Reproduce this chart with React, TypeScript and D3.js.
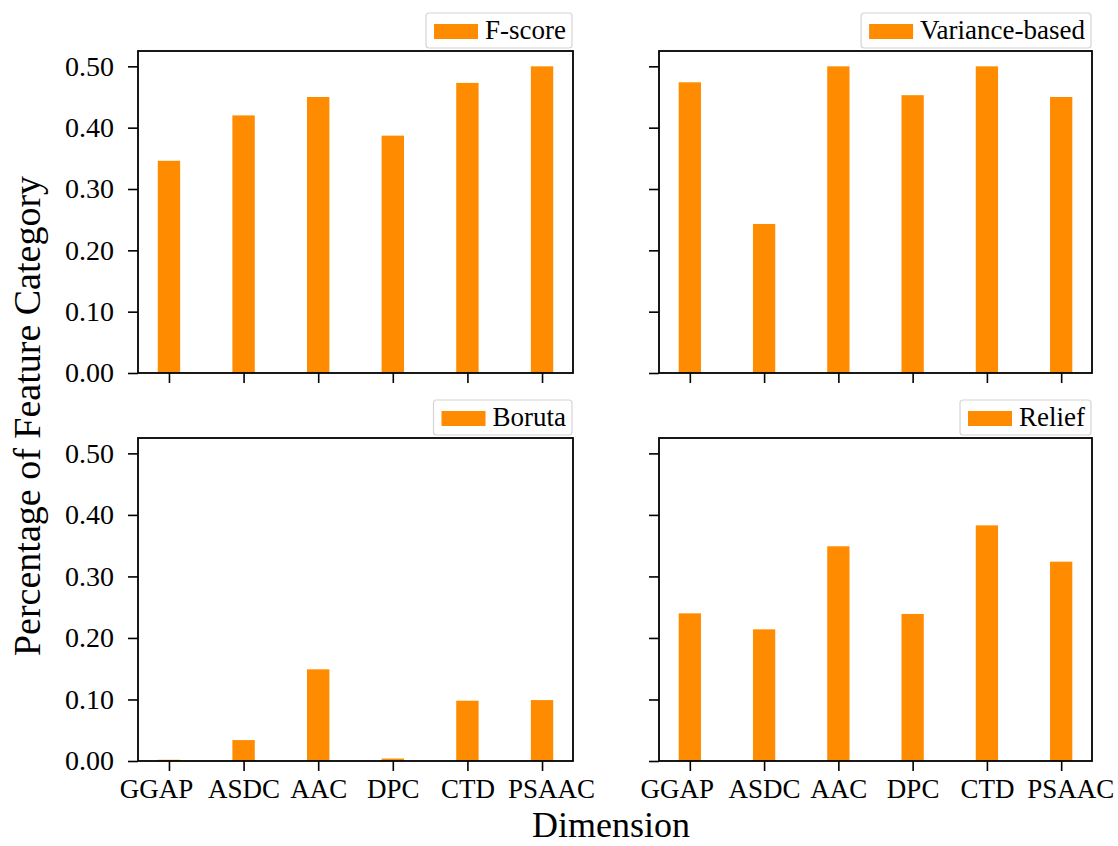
import React, { useEffect, useRef } from 'react';
import * as d3 from 'd3';

// categories on the x axis
const categories = ['GGAP', 'ASDC', 'AAC', 'DPC', 'CTD', 'PSAAC'];

// one series per selection method
const fScore = [0.346, 0.42, 0.45, 0.387, 0.473, 0.5];
const varianceBased = [0.474, 0.243, 0.5, 0.453, 0.5, 0.45];
const boruta = [0.002, 0.034, 0.149, 0.004, 0.098, 0.099];
const relief = [0.24, 0.214, 0.349, 0.239, 0.383, 0.324];

const yTicks = [0, 0.1, 0.2, 0.3, 0.4, 0.5];

// the outer tick labels sit a little off their ticks in the original
const labelShift = [-13, 0, 0, 0, 0, 9];

const FONT = "'Times New Roman', 'Liberation Serif', serif";
const ORANGE = '#FF8C00';

function App() {
  const svgRef = useRef<SVGSVGElement>(null);

  useEffect(() => {
    const svg = d3.select(svgRef.current);
    svg.selectAll('*').remove();

    const panels = [
      { name: 'F-score', values: fScore, left: 138, right: 573, top: 51, bottom: 373, showX: false, showY: true },
      { name: 'Variance-based', values: varianceBased, left: 659, right: 1092, top: 51, bottom: 373, showX: false, showY: false },
      { name: 'Boruta', values: boruta, left: 138, right: 573, top: 438, bottom: 761, showX: true, showY: true },
      { name: 'Relief', values: relief, left: 659, right: 1092, top: 438, bottom: 761, showX: true, showY: false },
    ];

    const barWidth = 0.3;

    panels.forEach(p => {
      const idx = categories.map((_, i) => i);
      const x = d3.scaleLinear().domain([-0.415, categories.length - 1 + 0.415]).range([p.left, p.right]);
      const y = d3.scaleLinear().domain([0, 0.525]).range([p.bottom, p.top]);
      const g = svg.append('g');

      // bars
      g.selectAll('rect.bar')
        .data(p.values)
        .enter().append('rect')
        .attr('class', 'bar')
        .attr('x', (d, i) => x(i - barWidth / 2))
        .attr('width', x(barWidth) - x(0))
        .attr('y', d => y(d))
        .attr('height', d => y(0) - y(d))
        .attr('fill', ORANGE);

      // y axis ticks
      const yAxis = g.append('g')
        .attr('transform', `translate(${p.left},0)`)
        .call(
          d3.axisLeft(y)
            .tickValues(yTicks)
            .tickSize(10)
            .tickPadding(14)
            .tickFormat(p.showY ? (d3.format('.2f') as any) : () => '')
        );
      yAxis.select('.domain').remove();
      yAxis.selectAll('line').attr('stroke', '#000').attr('stroke-width', 1.6);
      yAxis.selectAll('text')
        .style('font-family', FONT)
        .style('font-size', '28px')
        .attr('fill', '#000');

      // x axis ticks
      const xAxis = g.append('g')
        .attr('transform', `translate(0,${p.bottom})`)
        .call(
          d3.axisBottom(x)
            .tickValues(idx)
            .tickSize(10)
            .tickPadding(8)
            .tickFormat(p.showX ? ((d: any) => categories[d]) : () => '')
        );
      xAxis.select('.domain').remove();
      xAxis.selectAll('line').attr('stroke', '#000').attr('stroke-width', 1.6);
      xAxis.selectAll('text')
        .style('font-family', FONT)
        .style('font-size', '27px')
        .attr('fill', '#000')
        .attr('dx', (d: any) => labelShift[d]);

      // frame
      g.append('rect')
        .attr('x', p.left)
        .attr('y', p.top)
        .attr('width', p.right - p.left)
        .attr('height', p.bottom - p.top)
        .attr('fill', 'none')
        .attr('stroke', '#000')
        .attr('stroke-width', 1.8);

      // legend, sitting just above the upper right corner
      const lg = g.append('g');
      const boxRight = p.right - 1;
      const boxBottom = p.top - 3;
      const boxTop = boxBottom - 35;
      const label = lg.append('text')
        .attr('y', boxTop + 26)
        .style('font-family', FONT)
        .style('font-size', '27px')
        .attr('fill', '#000')
        .text(p.name);
      const tw = (label.node() as SVGTextElement).getComputedTextLength();
      const textX = boxRight - 6 - tw;
      label.attr('x', textX);
      const patchRight = textX - 7;
      const patchLeft = patchRight - 44;
      const boxLeft = patchLeft - 8;
      lg.insert('rect', 'text')
        .attr('x', boxLeft)
        .attr('y', boxTop)
        .attr('width', boxRight - boxLeft)
        .attr('height', boxBottom - boxTop)
        .attr('rx', 3)
        .attr('fill', '#fff')
        .attr('stroke', '#d4d4d4')
        .attr('stroke-width', 1.2);
      lg.insert('rect', 'text')
        .attr('x', patchLeft)
        .attr('y', boxTop + 11)
        .attr('width', 44)
        .attr('height', 15)
        .attr('fill', ORANGE);
    });

    // shared axis labels
    svg.append('text')
      .attr('transform', 'translate(40,416) rotate(-90)')
      .attr('text-anchor', 'middle')
      .style('font-family', FONT)
      .style('font-size', '38px')
      .attr('fill', '#000')
      .text('Percentage of Feature Category');

    svg.append('text')
      .attr('x', 611)
      .attr('y', 837)
      .attr('text-anchor', 'middle')
      .style('font-family', FONT)
      .style('font-size', '36px')
      .attr('fill', '#000')
      .text('Dimension');
  }, []);

  return (
    <div style={{ position: 'absolute', left: 0, top: 0 }}>
      <svg ref={svgRef} width={1118} height={846} style={{ display: 'block', background: '#fff' }} />
    </div>
  );
}

export default App;
